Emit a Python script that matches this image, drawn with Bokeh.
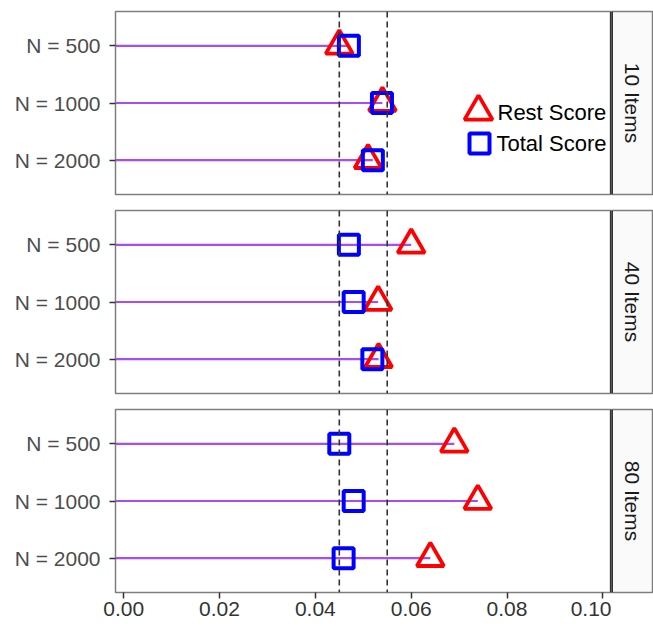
import math
from bokeh.plotting import figure
from bokeh.layouts import column, row
from bokeh.models import (Range1d, FixedTicker, Span, Legend, LegendItem, Label,
                          ColumnDataSource)
from bokeh.embed import file_html
from bokeh.resources import INLINE

# ---------------- data ----------------
panels = ["10 Items", "40 Items", "80 Items"]
sample_sizes = ["N = 500", "N = 1000", "N = 2000"]
rest_score = {
    "10 Items": [0.0450, 0.0540, 0.0510],
    "40 Items": [0.0600, 0.0531, 0.0532],
    "80 Items": [0.0690, 0.0739, 0.0640],
}
total_score = {
    "10 Items": [0.0470, 0.0539, 0.0520],
    "40 Items": [0.0470, 0.0480, 0.0519],
    "80 Items": [0.0450, 0.0480, 0.0459],
}
series_names = ["Rest Score", "Total Score"]
ref_lines = [0.045, 0.055]
x_ticks = [0.00, 0.02, 0.04, 0.06, 0.08, 0.10]
x_tick_labels = ["0.00", "0.02", "0.04", "0.06", "0.08", "0.10"]

# ---------------- style ----------------
X_LO, X_HI = -0.0017, 0.1018
FONT = "Liberation Sans"
FRAME_W, FRAME_H = 496, 183
STRIP_W = 42
RED, BLUE, PURPLE = "#FF0000", "#0000FF", "#A64DF5"
BORDER = "#7F7F7F"

ypos = [1, 2, 3]

rows = []
for i, name in enumerate(panels):
    top = 11 if i == 0 else 8
    bottom = 34 if i == len(panels) - 1 else 8
    last = i == len(panels) - 1
    p = figure(frame_width=FRAME_W, frame_height=FRAME_H,
               x_range=Range1d(X_LO, X_HI), y_range=Range1d(3.6, 0.4),
               output_backend="svg", toolbar_location=None,
               x_axis_location="below" if last else None,
               min_border_left=115, min_border_right=0,
               min_border_top=top, min_border_bottom=bottom)
    p.xgrid.visible = False
    p.ygrid.visible = False
    p.outline_line_color = BORDER
    p.outline_line_width = 1.5
    p.background_fill_color = "white"
    p.border_fill_color = "white"

    # y axis
    ya = p.yaxis[0]
    ya.ticker = FixedTicker(ticks=ypos)
    ya.major_label_overrides = {y: s for y, s in zip(ypos, sample_sizes)}
    ya.axis_line_color = None
    ya.major_tick_line_color = "#333333"
    ya.major_tick_line_width = 1.5
    ya.major_tick_out = 6
    ya.major_tick_in = 0
    ya.minor_tick_line_color = None
    ya.major_label_standoff = 9
    ya.major_label_text_font = FONT
    ya.major_label_text_font_size = "21px"
    ya.major_label_text_color = "#4D4D4D"

    if last:
        xa = p.xaxis[0]
        xa.ticker = FixedTicker(ticks=x_ticks)
        xa.major_label_overrides = {t: s for t, s in zip(x_ticks, x_tick_labels)}
        xa.axis_line_color = None
        xa.major_tick_line_color = "#333333"
        xa.major_tick_line_width = 1.5
        xa.major_tick_out = 6
        xa.major_tick_in = 0
        xa.minor_tick_line_color = None
        xa.major_label_standoff = 3
        xa.major_label_text_font = FONT
        xa.major_label_text_font_size = "21px"
        xa.major_label_text_color = "#333333"

    rs = rest_score[name]
    ts = total_score[name]
    src = ColumnDataSource(dict(
        y=ypos, rest=rs, total=ts,
        x0=[X_LO] * len(ypos),
        x1=[max(a, b) for a, b in zip(rs, ts)],
    ))

    for loc in ref_lines:
        p.add_layout(Span(location=loc, dimension="height", line_color="#333333",
                          line_width=1.6, line_dash="6 4"))
    p.add_layout(Span(location=X_HI, dimension="height", line_color="#333333",
                      line_width=3))

    p.segment(x0="x0", y0="y", x1="x1", y1="y", source=src,
              line_color=PURPLE, line_width=2.2)
    r_rest = p.scatter(x="rest", y="y", source=src, marker="triangle", size=27,
                       fill_color=None, line_color=RED, line_width=3.8)
    r_total = p.scatter(x="total", y="y", source=src, marker="square", size=20,
                        fill_color=None, line_color=BLUE, line_width=4)

    if i == 0:
        # legend keys (glyph only), texts placed next to them
        leg_a = Legend(items=[LegendItem(label=" ", renderers=[r_rest])],
                       location=(328, 48), glyph_width=70, glyph_height=70,
                       label_standoff=0, padding=0, margin=0,
                       border_line_color=None, background_fill_alpha=0,
                       label_text_font_size="4px")
        leg_b = Legend(items=[LegendItem(label=" ", renderers=[r_total])],
                       location=(339, 26), glyph_width=50, glyph_height=50,
                       label_standoff=0, padding=0, margin=0,
                       border_line_color=None, background_fill_alpha=0,
                       label_text_font_size="4px")
        p.add_layout(leg_a)
        p.add_layout(leg_b)
        for txt, lx, ly in zip(series_names, [382, 381], [82, 51]):
            p.add_layout(Label(x=lx, y=ly, x_units="screen", y_units="screen",
                               text=txt, text_align="left", text_baseline="middle",
                               text_font=FONT, text_font_size="22px",
                               text_color="black"))

    # facet strip
    s = figure(frame_width=STRIP_W, frame_height=FRAME_H,
               x_range=Range1d(0, 1), y_range=Range1d(0, 1),
               output_backend="svg", toolbar_location=None,
               x_axis_location=None, y_axis_location=None,
               min_border_left=0, min_border_right=0,
               min_border_top=top, min_border_bottom=bottom)
    s.xgrid.visible = False
    s.ygrid.visible = False
    s.background_fill_color = "#FAFAFA"
    s.border_fill_color = "white"
    s.outline_line_color = BORDER
    s.outline_line_width = 1.5
    s.add_layout(Span(location=0, dimension="height", line_color="#333333",
                      line_width=3))
    s.add_layout(Label(x=0.5, y=0.5, text=name, angle=-math.pi / 2,
                       text_align="center", text_baseline="middle",
                       text_font=FONT, text_font_size="21px",
                       text_color="#1A1A1A"))
    rows.append(row(p, s, spacing=0))

layout = column(*rows, spacing=0)

open("out.html", "w").write(file_html(layout, INLINE))
